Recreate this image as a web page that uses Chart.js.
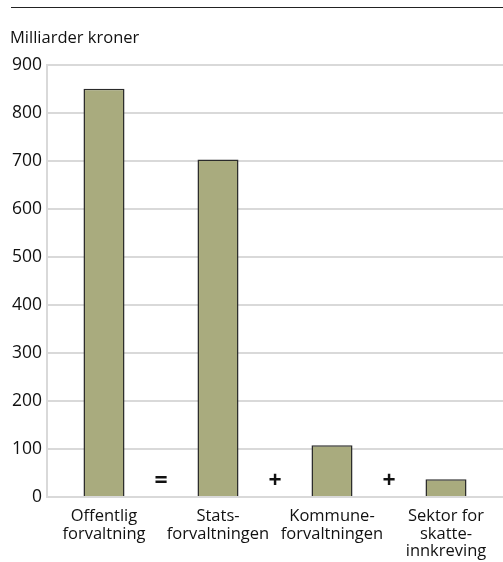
<!DOCTYPE html>
<html lang="no">
<head>
<meta charset="UTF-8">
<title>Offentlig forvaltning</title>
<script src="https://cdn.jsdelivr.net/npm/chart.js"></script>
<style>
  html, body { margin: 0; padding: 0; background: #fff; }
  #wrap { width: 503px; height: 562px; }
</style>
</head>
<body>
<div id="wrap"><canvas id="chart" width="503" height="562"></canvas></div>
<script>
// data
const categories = [
    ['Offentlig', 'forvaltning'],
    ['Stats-', 'forvaltningen'],
    ['Kommune-', 'forvaltningen'],
    ['Sektor for', 'skatte-', 'innkreving']
];
const values = [850, 703, 108, 37];
const operators = ['=', '+', '+'];
const unitLabel = 'Milliarder kroner';

const gridGray = '#d9d9d9';
const fontFamily = '"Open Sans", "Noto Sans", sans-serif';

// top rule + the = / + signs between bars
const extras = {
    id: 'extras',
    afterDraw(chart) {
        const ctx = chart.ctx;
        const area = chart.chartArea;
        const x = chart.scales.x;
        ctx.save();
        ctx.strokeStyle = '#222';
        ctx.lineWidth = 1;
        ctx.beginPath();
        ctx.moveTo(11, 7.5);
        ctx.lineTo(chart.width, 7.5);
        ctx.stroke();

        ctx.fillStyle = '#111';
        ctx.font = 'bold 23px ' + fontFamily;
        ctx.textAlign = 'center';
        ctx.textBaseline = 'middle';
        operators.forEach((op, i) => {
            ctx.fillText(op, x.getPixelForValue(i + 0.5), area.bottom - 16);
        });
        ctx.restore();
    }
};

new Chart(document.getElementById('chart'), {
    type: 'bar',
    data: {
        labels: categories,
        datasets: [{
            data: values,
            backgroundColor: '#a9ab7e',
            borderColor: '#2b2b2b',
            borderWidth: 1.5,
            categoryPercentage: 1,
            barPercentage: 0.36
        }]
    },
    options: {
        responsive: false,
        animation: false,
        layout: { padding: { left: 10, right: 0, top: 28, bottom: -1 } },
        plugins: {
            legend: { display: false },
            tooltip: { enabled: false },
            title: {
                display: true,
                text: unitLabel,
                align: 'start',
                color: '#111',
                font: { family: fontFamily, size: 16.5, weight: 'normal' },
                padding: { top: 0, bottom: 17 }
            }
        },
        scales: {
            y: {
                min: 0,
                max: 900,
                afterFit(scale) { scale.width = 37; },
                ticks: {
                    stepSize: 100,
                    color: '#111',
                    padding: 5,
                    font: { family: fontFamily, size: 17.5 }
                },
                grid: { color: gridGray, lineWidth: 2, drawTicks: false },
                border: { color: gridGray, width: 2 }
            },
            x: {
                ticks: {
                    color: '#111',
                    padding: 3,
                    maxRotation: 0,
                    autoSkip: false,
                    font: { family: fontFamily, size: 16.5, lineHeight: 1.05 }
                },
                grid: { display: false },
                border: { color: gridGray, width: 2 }
            }
        }
    },
    plugins: [extras]
});
</script>
</body>
</html>
